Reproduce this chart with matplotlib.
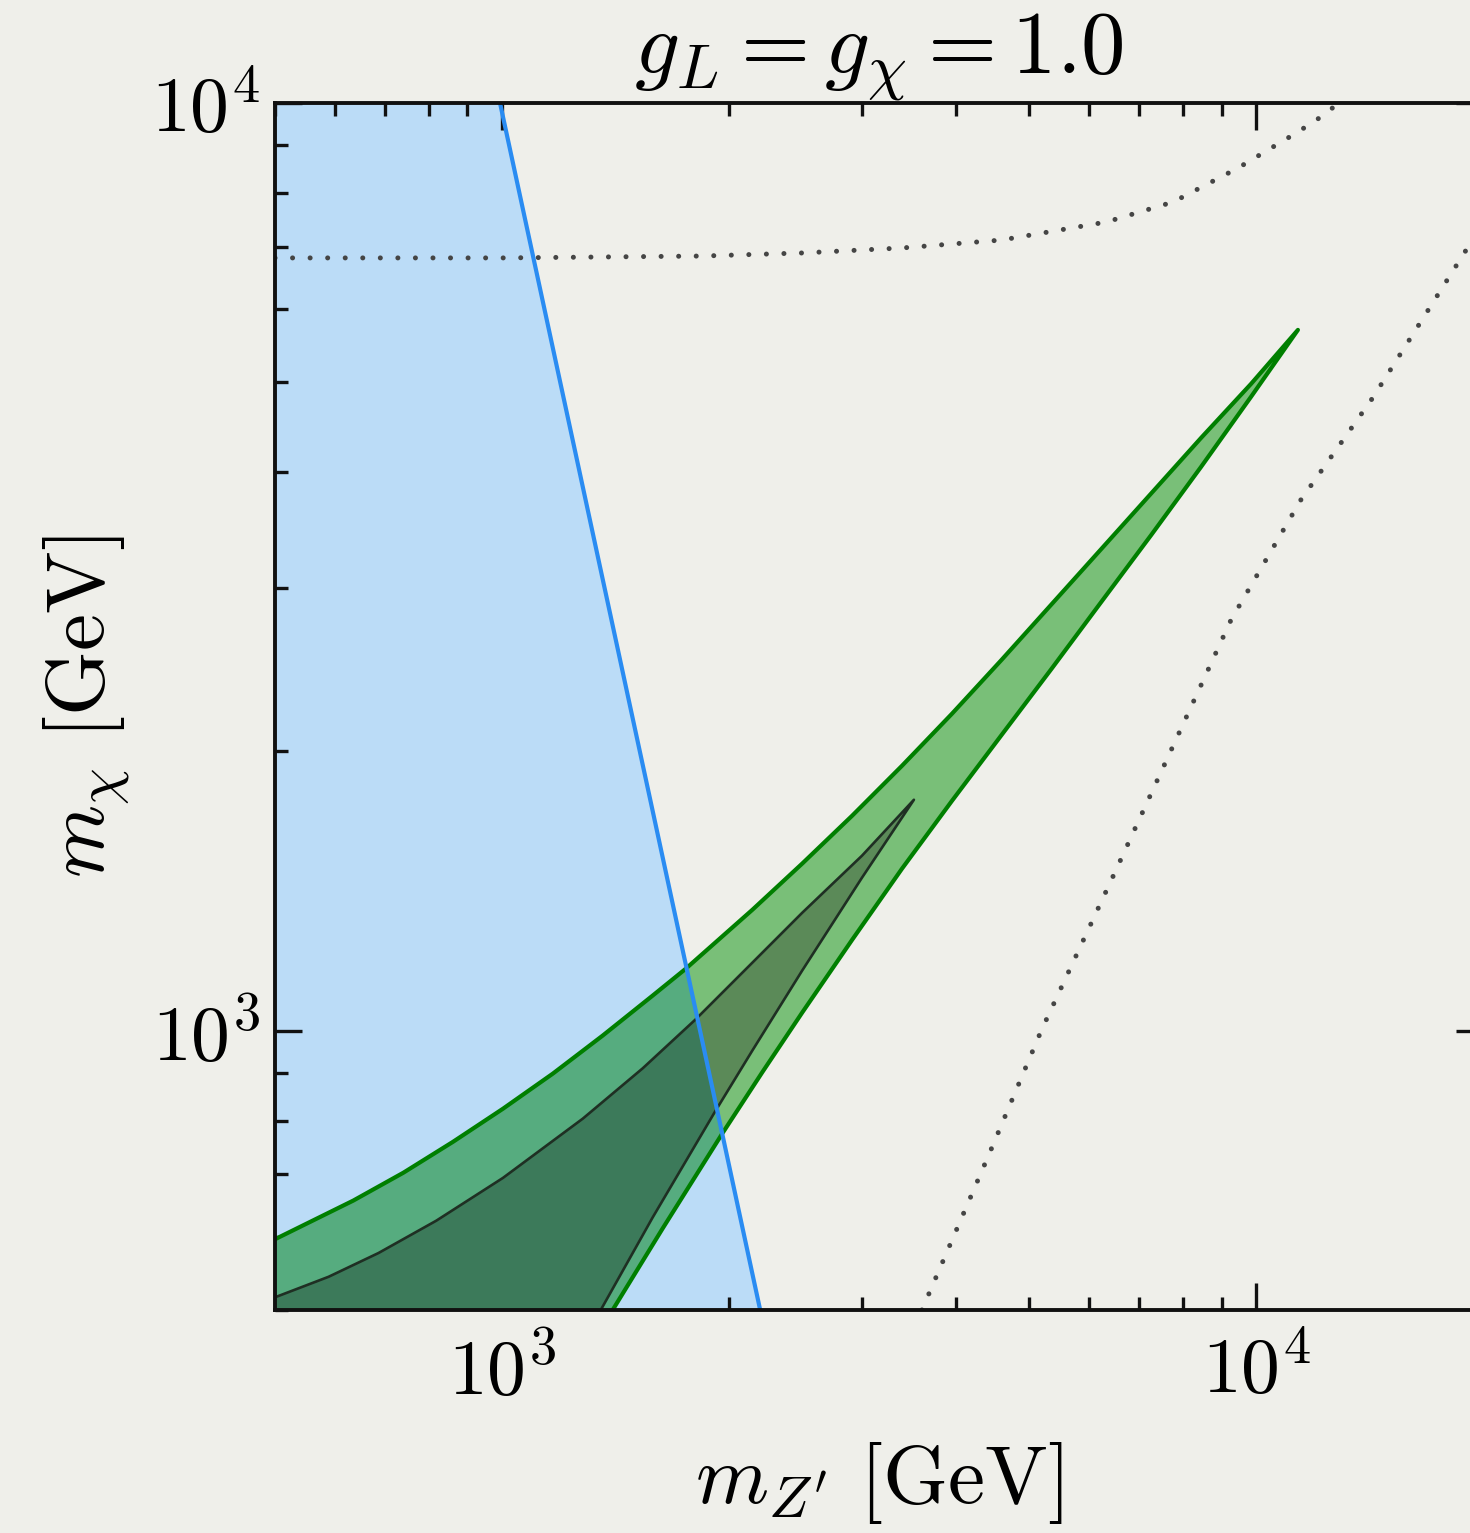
import math
import matplotlib
matplotlib.use("Agg")
import matplotlib.pyplot as plt
from matplotlib.patches import Polygon
from matplotlib.ticker import LogLocator, FuncFormatter, NullFormatter

# ---- data (m_Z' [GeV], m_chi [GeV]) ----
# boundary of the blue excluded region (straight line in log-log)
blue_mz = [994, 1831, 2200]
blue_mchi = [10000, 1000, 500]

# outer (light green) band
outer_upper_mz = [500, 635, 740, 861, 1003, 1168, 1360, 1584, 1752, 2148, 2501,
                  2913, 3392, 3951, 4599, 6237, 8455, 9849, 11365]
outer_upper_mchi = [596, 656, 703, 759, 824, 899, 988, 1091, 1166, 1350, 1514,
                    1705, 1930, 2196, 2511, 3307, 4355, 4980, 5694]
outer_lower_mz = [11365, 9849, 8455, 7262, 6237, 5355, 4599, 3951, 3392, 2913,
                  2501, 2214, 1960, 1633, 1402]
outer_lower_mchi = [5694, 4823, 4053, 3423, 2900, 2455, 2084, 1769, 1495, 1253,
                    1046, 902, 775, 612, 500]

# inner (dark green) band
inner_upper_mz = [500, 589, 686, 818, 1003, 1280, 1537, 1805, 2148, 2501, 3002, 3518]
inner_upper_mchi = [516, 543, 576, 624, 694, 804, 911, 1028, 1184, 1340, 1544, 1774]
inner_lower_mz = [3518, 3002, 2501, 2148, 1913, 1584, 1352]
inner_lower_mchi = [1774, 1462, 1161, 952, 816, 629, 500]

# dotted contours
dot_a_mz = [500, 1003, 1843, 2499, 3391, 4599, 6333, 7766, 9467, 11365, 12415, 12841]
dot_a_mchi = [6808, 6808, 6840, 6892, 6978, 7117, 7443, 7822, 8511, 9307, 9754, 10000]
dot_b_mz = [3605, 4435, 5195, 6430, 7720, 9267, 11470, 14280, 19075, 20000]
dot_b_mchi = [500, 739, 1002, 1454, 2008, 2773, 3735, 4810, 6980, 7372]

xlim = (500, 20000)
ylim = (500, 10000)

# ---- style ----
BG = '#efefea'
BLUE_FILL = '#bbdcf7'
BLUE_LINE = '#2a8cf2'
OUTER_ON_BG = '#79bf78'
OUTER_ON_BLUE = '#56ac7f'
INNER_ON_BG = '#5b8a58'
INNER_ON_BLUE = '#3c7a5a'
OUTER_EDGE = '#007f00'
INNER_EDGE = '#1f2f23'
DOT_COLOR = '#454545'

plt.rcParams['mathtext.fontset'] = 'cm'
plt.rcParams['font.family'] = 'serif'
plt.rcParams['font.serif'] = ['cmr10', 'DejaVu Serif']
plt.rcParams['axes.unicode_minus'] = False

W, H = 1470, 1533
fig = plt.figure(figsize=(W / 100, H / 100), dpi=100, facecolor=BG)
ax = fig.add_axes([275 / W, (H - 1310) / H, 1208 / W, 1207 / H])
ax.set_facecolor(BG)
ax.set_xscale('log')
ax.set_yscale('log')
ax.set_xlim(*xlim)
ax.set_ylim(*ylim)

# blue region: everything left of the boundary line
blue_x = [xlim[0]] + blue_mz + [xlim[0]]
blue_y = [blue_mchi[0]] + blue_mchi + [blue_mchi[-1]]
ax.fill(blue_x, blue_y, color=BLUE_FILL, lw=0, zorder=1)
clip_poly = Polygon(list(zip(blue_x, blue_y)), closed=True,
                    facecolor='none', edgecolor='none')
ax.add_patch(clip_poly)


def band(upper_x, upper_y, lower_x, lower_y, c_bg, c_blue, z):
    xs = upper_x + lower_x[1:] + [upper_x[0]]
    ys = upper_y + lower_y[1:] + [lower_y[-1]]
    ax.fill(xs, ys, color=c_bg, lw=0, zorder=z)
    p = ax.fill(xs, ys, color=c_blue, lw=0, zorder=z + 0.1)[0]
    p.set_clip_path(clip_poly)


band(outer_upper_mz, outer_upper_mchi, outer_lower_mz, outer_lower_mchi,
     OUTER_ON_BG, OUTER_ON_BLUE, 2)
band(inner_upper_mz, inner_upper_mchi, inner_lower_mz, inner_lower_mchi,
     INNER_ON_BG, INNER_ON_BLUE, 3)

ax.plot(inner_upper_mz + inner_lower_mz[1:], inner_upper_mchi + inner_lower_mchi[1:],
        color=INNER_EDGE, lw=1.9, solid_joinstyle='round', zorder=4)
ax.plot(outer_upper_mz + outer_lower_mz[1:], outer_upper_mchi + outer_lower_mchi[1:],
        color=OUTER_EDGE, lw=3.0, solid_joinstyle='round', solid_capstyle='round',
        zorder=4.5)

ax.plot(blue_mz, blue_mchi, color=BLUE_LINE, lw=3.0, zorder=5)

for xs, ys in ((dot_a_mz, dot_a_mchi), (dot_b_mz, dot_b_mchi)):
    ax.plot(xs, ys, color=DOT_COLOR, lw=3.6, linestyle=(0, (0.01, 3.5)),
            dash_capstyle='round', zorder=6)

# ---- axes ----
fmt = FuncFormatter(lambda v, pos: r'$10^{%d}$' % round(math.log10(v)))
for axis in (ax.xaxis, ax.yaxis):
    axis.set_major_locator(LogLocator(base=10, numticks=10))
    axis.set_minor_locator(LogLocator(base=10, subs=range(2, 10), numticks=20))
    axis.set_major_formatter(fmt)
    axis.set_minor_formatter(NullFormatter())

ax.tick_params(which='both', direction='in', top=True, right=True, width=2.4,
               color='#111111', zorder=10)
ax.tick_params(which='major', length=19.5)
ax.tick_params(which='minor', length=9.5)
ax.tick_params(axis='x', which='major', labelsize=56, pad=18)
ax.tick_params(axis='y', which='major', labelsize=56, pad=11)
for s in ax.spines.values():
    s.set_linewidth(2.8)
    s.set_color('#111111')
    s.set_zorder(10)

ax.set_xlabel(r"$m_{Z^\prime}\ [\mathrm{GeV}]$", fontsize=60, labelpad=22)
ax.set_ylabel(r"$m_{\chi}\ [\mathrm{GeV}]$", fontsize=60, labelpad=14)
ax.set_title(r"$g_L = g_\chi = 1.0$", fontsize=64, pad=6)

fig.savefig('out.png', dpi=100, facecolor=BG)
